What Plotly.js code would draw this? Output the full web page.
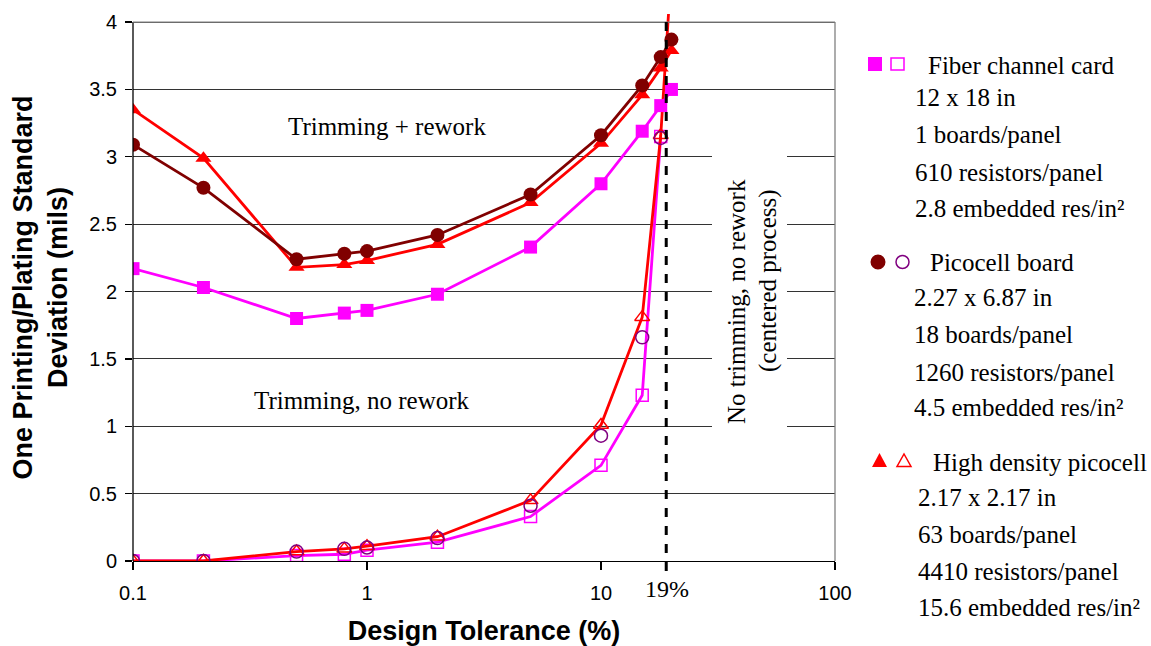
<!DOCTYPE html>
<html>
<head>
<meta charset="utf-8">
<script src="https://cdn.plot.ly/plotly-3.0.1.min.js"></script>
<style>html,body{margin:0;padding:0;background:#fff;}#chart{width:1151px;height:646px;}</style>
</head>
<body>
<div id="chart"></div>
<script>
// ---- data ----
const tolRework = [0.1, 0.2, 0.5, 0.8, 1, 2, 5, 10, 15, 18, 20];
const fiberRework = [2.17, 2.03, 1.80, 1.84, 1.86, 1.98, 2.33, 2.80, 3.19, 3.38, 3.50];
const picoRework = [3.09, 2.77, 2.24, 2.28, 2.30, 2.42, 2.72, 3.16, 3.53, 3.74, 3.87];
const hdRework = [3.35, 2.99, 2.18, 2.20, 2.23, 2.35, 2.66, 3.10, 3.46, 3.66, 3.79];

const tolNoRework = [0.1, 0.2, 0.5, 0.8, 1, 2, 5, 10, 15, 18];
const fiberNoRework = [0, 0, 0.04, 0.05, 0.08, 0.14, 0.33, 0.71, 1.23, 3.15];
const picoNoRework = [0, 0, 0.07, 0.09, 0.10, 0.17, 0.41, 0.93, 1.66, 3.14];
const tolNoReworkHD = [0.1, 0.2, 0.5, 0.8, 1, 2, 5, 10, 15, 18, 20];
const hdNoRework = [0, 0, 0.07, 0.09, 0.11, 0.18, 0.45, 1.01, 1.81, 3.16, 4.4];

const thresholdTol = 19;
const xTickVals = [0.1, 1, 10, 100];
const xTickText = ['0.1', '1', '10', '100'];
const yTickVals = [0, 0.5, 1, 1.5, 2, 2.5, 3, 3.5, 4];
const yTickText = ['0', '0.5', '1', '1.5', '2', '2.5', '3', '3.5', '4'];

const legendGroups = [
  {name: 'Fiber channel card', lines: ['12 x 18 in', '1 boards/panel', '610 resistors/panel', '2.8 embedded res/in²']},
  {name: 'Picocell board', lines: ['2.27 x 6.87 in', '18 boards/panel', '1260 resistors/panel', '4.5 embedded res/in²']},
  {name: 'High density picocell', lines: ['2.17 x 2.17 in', '63 boards/panel', '4410 resistors/panel', '15.6 embedded res/in²']}
];

// ---- layout geometry (pixels) ----
const W = 1151, H = 646;
const L = 133, R = 835, T = 14, B = 561;
const YMAX = 4.06;
const fx = p => (p - L) / (R - L);
const fy = p => (B - p) / (B - T);

const MAGENTA = '#FF00FF', DARKRED = '#800000', RED = '#FF0000', PURPLE = '#800080';
const serif = 'Liberation Serif, Times New Roman, serif';
const sans = 'Liberation Sans, Arial, sans-serif';

const traces = [
  {x: tolNoRework, y: fiberNoRework, mode: 'lines+markers', name: 'Fiber channel card (trimming, no rework)',
   line: {color: MAGENTA, width: 2.8},
   marker: {symbol: 'square-open', size: 12, color: MAGENTA, line: {width: 1.5, color: MAGENTA}}},
  {x: tolNoReworkHD, y: hdNoRework, mode: 'lines+markers', name: 'High density picocell (trimming, no rework)',
   line: {color: RED, width: 2.8},
   marker: {symbol: 'triangle-up-open', size: 13, color: RED, line: {width: 1.5, color: RED}}},
  {x: tolNoRework, y: picoNoRework, mode: 'markers', name: 'Picocell board (trimming, no rework)',
   marker: {symbol: 'circle-open', size: 13, color: PURPLE, line: {width: 1.5, color: PURPLE}}},
  {x: tolRework, y: fiberRework, mode: 'lines+markers', name: 'Fiber channel card (trimming + rework)',
   line: {color: MAGENTA, width: 2.8},
   marker: {symbol: 'square', size: 13, color: MAGENTA}},
  {x: tolRework, y: hdRework, mode: 'lines+markers', name: 'High density picocell (trimming + rework)',
   line: {color: RED, width: 2.8},
   marker: {symbol: 'triangle-up', size: 14, color: RED}},
  {x: tolRework, y: picoRework, mode: 'lines+markers', name: 'Picocell board (trimming + rework)',
   line: {color: DARKRED, width: 2.8},
   marker: {symbol: 'circle', size: 14, color: DARKRED}}
];

const shapes = [
  // white box behind the rotated note
  {type: 'rect', xref: 'paper', yref: 'paper', x0: fx(712), x1: fx(787), y0: fy(435), y1: fy(146),
   fillcolor: '#FFFFFF', line: {width: 0}, layer: 'above'},
  // plot frame
  {type: 'line', xref: 'paper', yref: 'y', x0: 0, x1: 0, y0: 0, y1: 4, line: {color: '#000000', width: 1.3}},
  {type: 'line', xref: 'paper', yref: 'y', x0: 0, x1: 1, y0: 4, y1: 4, line: {color: '#808080', width: 1.3}},
  {type: 'line', xref: 'paper', yref: 'y', x0: 1, x1: 1, y0: 0, y1: 4, line: {color: '#808080', width: 1.3}},
  // threshold
  {type: 'line', xref: 'x', yref: 'paper', x0: thresholdTol, x1: thresholdTol, y0: fy(571), y1: fy(22),
   line: {color: '#000000', width: 3, dash: 'dash'}, layer: 'above'},
  // legend symbols
  {type: 'rect', xref: 'paper', yref: 'paper', x0: fx(868), x1: fx(882), y0: fy(71), y1: fy(57), fillcolor: MAGENTA, line: {width: 0}},
  {type: 'rect', xref: 'paper', yref: 'paper', x0: fx(891), x1: fx(904), y0: fy(70), y1: fy(58), fillcolor: 'rgba(0,0,0,0)', line: {color: MAGENTA, width: 1.5}},
  {type: 'circle', xref: 'paper', yref: 'paper', x0: fx(870.5), x1: fx(885.5), y0: fy(269.5), y1: fy(254.5), fillcolor: DARKRED, line: {width: 0}},
  {type: 'circle', xref: 'paper', yref: 'paper', x0: fx(896), x1: fx(909), y0: fy(268.5), y1: fy(255.5), fillcolor: 'rgba(0,0,0,0)', line: {color: PURPLE, width: 1.5}},
  {type: 'path', xref: 'paper', yref: 'paper',
   path: `M ${fx(872)} ${fy(467)} L ${fx(887)} ${fy(467)} L ${fx(879.5)} ${fy(453)} Z`, fillcolor: RED, line: {width: 0}},
  {type: 'path', xref: 'paper', yref: 'paper',
   path: `M ${fx(897)} ${fy(466.5)} L ${fx(911)} ${fy(466.5)} L ${fx(904)} ${fy(454)} Z`, fillcolor: 'rgba(0,0,0,0)', line: {color: RED, width: 1.5}}
];

const ann = (text, px, py, opts) => Object.assign({
  text: text, xref: 'paper', yref: 'paper', x: fx(px), y: fy(py), showarrow: false,
  xanchor: 'center', yanchor: 'middle', font: {family: serif, size: 25, color: '#000000'}
}, opts || {});

const annotations = [
  ann('Trimming + rework', 387, 126),
  ann('Trimming, no rework', 362, 400),
  ann('No trimming, no rework', 736, 302, {textangle: -90}),
  ann('(centered process)', 768, 281, {textangle: -90}),
  ann('19%', 667, 589, {font: {family: serif, size: 24, color: '#000000'}})
];

const titleRows = [[926, 66], [928, 262], [931, 462]];
const detailRows = [
  [[913, 97], [913, 134], [913, 172], [913, 208]],
  [[912, 297], [912, 334], [912, 372], [912, 408]],
  [[916, 497], [916, 534], [916, 571], [916, 607]]
];
legendGroups.forEach((g, i) => {
  annotations.push(ann(g.name, titleRows[i][0], titleRows[i][1], {xanchor: 'left'}));
  g.lines.forEach((t, j) => annotations.push(ann(t, detailRows[i][j][0], detailRows[i][j][1], {xanchor: 'left'})));
});

const layout = {
  width: W, height: H,
  margin: {l: L, r: W - R, t: T, b: H - B, pad: 0},
  paper_bgcolor: '#FFFFFF', plot_bgcolor: '#FFFFFF',
  showlegend: false,
  font: {family: sans, color: '#000000'},
  xaxis: {
    type: 'log', range: [-1, 2],
    tickvals: xTickVals, ticktext: xTickText,
    ticks: 'outside', ticklen: 8, tickwidth: 1.3, tickcolor: '#000000',
    showgrid: false, zeroline: false,
    showline: true, linecolor: '#000000', linewidth: 1.3,
    tickfont: {family: sans, size: 20, color: '#000000'},
    ticklabelstandoff: 6,
    title: {text: '<b>Design Tolerance (%)</b>', font: {family: sans, size: 27, color: '#000000'}, standoff: 19}
  },
  yaxis: {
    range: [0, YMAX],
    tickvals: yTickVals, ticktext: yTickText,
    ticks: 'outside', ticklen: 7, tickwidth: 1.3, tickcolor: '#000000',
    showgrid: true, gridcolor: '#333333', gridwidth: 1,
    zeroline: false, showline: false,
    tickfont: {family: sans, size: 20, color: '#000000'},
    ticklabelstandoff: 4,
    title: {text: '<b>One Printing/Plating Standard<br>Deviation (mils)</b>', font: {family: sans, size: 27, color: '#000000'}, standoff: 13}
  },
  shapes: shapes,
  annotations: annotations
};

Plotly.newPlot('chart', traces, layout, {staticPlot: true, displayModeBar: false});
</script>
</body>
</html>
